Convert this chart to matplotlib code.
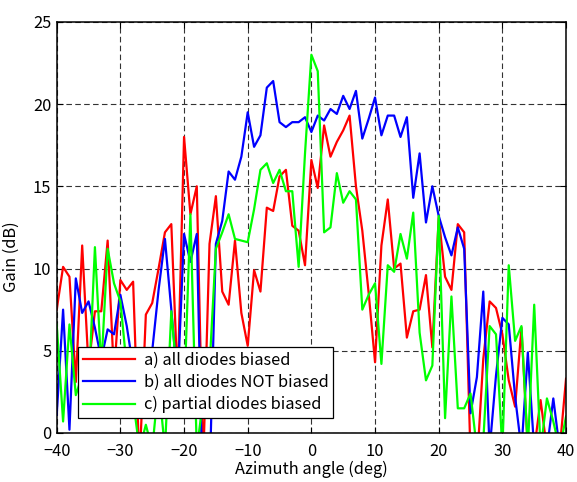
import numpy as np
import matplotlib
matplotlib.use('Agg')
import matplotlib.pyplot as plt

plt.rcParams['font.family'] = ['Noto Sans CJK JP', 'DejaVu Sans']

# azimuth sample positions (deg)
angles = np.arange(-40, 41, 1)

# gain (dB), -40 .. 40 deg
gain_all_biased = [
    7.5, 10.1, 9.5, 3.1, 11.4, 4.0, 7.4, 7.4, 11.7, 3.5,
    9.3, 8.7, 9.2, -2.0, 7.2, 7.9, 10.0, 12.2, 12.7, 3.0,
    18.0, 13.3, 15.0, -2.0, 11.5, 14.4, 8.6, 7.8, 11.7, 7.3,
    5.3, 9.9, 8.6, 13.7, 13.5, 15.6, 16.0, 12.6, 12.3, 10.2,
    16.6, 14.9, 18.7, 16.8, 17.7, 18.4, 19.3, 15.0, 12.3, 8.5,
    4.3, 11.4, 14.2, 10.0, 10.3, 5.8, 7.4, 7.5, 9.6, 5.2,
    13.1, 9.5, 8.7, 12.7, 12.2, -1.5, -2.0, 4.5, 8.0, 7.6,
    6.0, 3.2, 1.6, 6.4, -1.0, -1.0, 2.0, -1.0, -1.0, -1.0,
    3.3]
gain_not_biased = [
    1.1, 7.5, 0.2, 9.4, 7.3, 8.0, 6.4, 4.5, 6.3, 6.0,
    8.4, 6.5, 4.0, 2.0, 3.0, 5.0, 8.7, 11.8, 7.5, 3.0,
    12.1, 10.4, 12.1, -5.0, -3.0, 11.5, 12.9, 15.9, 15.4, 16.8,
    19.5, 17.4, 18.1, 21.0, 21.4, 18.9, 18.6, 18.9, 18.9, 19.2,
    18.3, 19.3, 19.0, 19.7, 19.4, 20.5, 19.7, 20.8, 17.9, 19.1,
    20.4, 18.1, 19.3, 19.3, 18.0, 19.2, 14.3, 17.0, 12.8, 15.0,
    13.2, 11.9, 10.8, 12.5, 11.2, 1.2, 3.4, 8.6, -1.0, 3.5,
    7.0, 6.6, 2.2, -1.0, 4.9, -1.0, -1.0, -1.0, 2.1, -1.0,
    -1.0]
gain_partial = [
    6.6, 0.7, 6.6, 2.3, 3.5, 2.5, 11.3, 4.0, 11.2, 9.1,
    8.0, 4.0, 2.0, -1.0, 0.5, -1.0, 3.0, -1.0, 7.4, 3.0,
    2.0, 13.3, -1.0, 2.0, 4.0, 11.2, 12.2, 13.3, 11.8, 11.7,
    11.6, 13.6, 16.0, 16.4, 15.2, 16.0, 14.7, 14.7, 10.1, 17.0,
    23.0, 22.0, 12.2, 12.5, 15.8, 14.0, 14.7, 14.2, 7.5, 8.4,
    9.1, 4.2, 10.2, 9.8, 12.1, 10.6, 13.4, 6.1, 3.2, 4.1,
    13.2, 0.9, 8.3, 1.5, 1.5, 2.4, -1.0, -0.5, 6.5, 6.0,
    -1.0, 10.2, 5.6, 6.5, -1.0, 7.8, -1.0, 2.1, 0.7, -1.0,
    1.0]

labels = ['a) all diodes biased', 'b) all diodes NOT biased',
          'c) partial diodes biased']
colors = ['#ff0000', '#0000ff', '#00ff00']

x_ticks = [-40, -30, -20, -10, 0, 10, 20, 30, 40]
y_ticks = [0, 5, 10, 15, 20, 25]

FS = 11.8

fig = plt.figure(figsize=(5.77, 4.82), dpi=100)
ax = fig.add_axes([0.0983, 0.1017, 0.8827, 0.853])

for ys, col, lab in zip([gain_all_biased, gain_not_biased, gain_partial],
                        colors, labels):
    ax.plot(angles, ys, color=col, lw=1.6, label=lab)

ax.set_xlim(-40, 40)
ax.set_ylim(0, 25)
ax.set_xticks(x_ticks)
ax.set_yticks(y_ticks)
ax.tick_params(direction='in', length=4, width=0.8, labelsize=FS,
               top=True, right=True)
ax.tick_params(axis='x', pad=7)
ax.tick_params(axis='y', pad=4)
ax.grid(True, color='#333333', lw=0.8, linestyle=(0, (5, 3)))
for sp in ax.spines.values():
    sp.set_linewidth(1.1)

ax.set_xlabel('Azimuth angle (deg)', fontsize=FS, labelpad=1)
ax.set_ylabel('Gain (dB)', fontsize=FS)
ax.yaxis.set_label_coords(-0.072, 0.43)

leg = ax.legend(loc='lower left', bbox_to_anchor=(0.042, 0.036),
                borderaxespad=0, fontsize=FS, handlelength=3.2,
                labelspacing=0.3, fancybox=False, framealpha=1,
                edgecolor='black', borderpad=0.3, handletextpad=0.5)
leg.get_frame().set_linewidth(0.9)

fig.savefig('out.png', dpi=100)
